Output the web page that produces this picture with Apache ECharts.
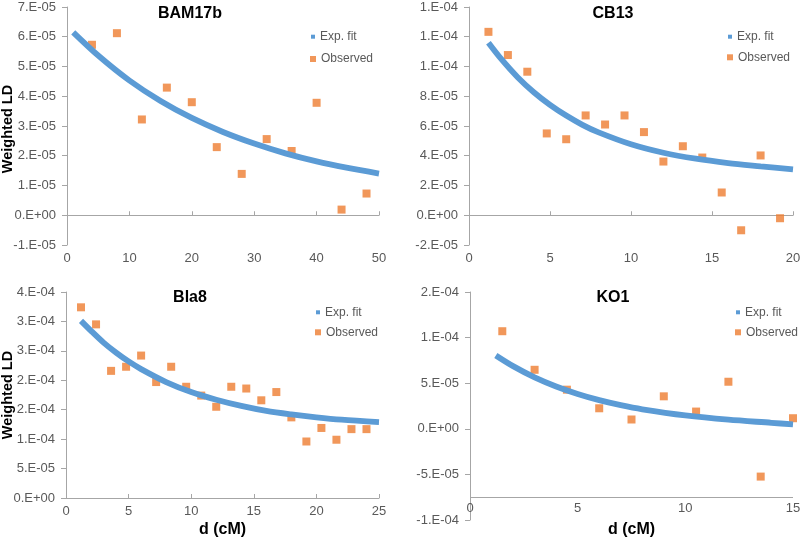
<!DOCTYPE html>
<html>
<head>
<meta charset="utf-8">
<script src="https://cdn.jsdelivr.net/npm/echarts@6/dist/echarts.min.js"></script>
<style>html,body{margin:0;padding:0;background:#fff}#c{width:800px;height:541px}</style>
</head>
<body>
<div id="c"></div>
<script>
// ---- Data ----
const titles = ['BAM17b', 'CB13', 'Bla8', 'KO1'];
const yTitle = 'Weighted LD';
const xTitle = 'd (cM)';

const bamObsX = [4, 8, 12, 16, 20, 24, 28, 32, 36, 40, 44, 48];
const bamObsY = [5.73e-5, 6.12e-5, 3.22e-5, 4.29e-5, 3.80e-5, 2.29e-5, 1.39e-5, 2.56e-5, 2.16e-5, 3.78e-5, 0.19e-5, 0.73e-5];
const bamFitX = [1, 5, 10, 15, 20, 25, 30, 35, 40, 45, 50];
const bamFitY = [6.15e-5, 5.37e-5, 4.53e-5, 3.84e-5, 3.27e-5, 2.80e-5, 2.41e-5, 2.08e-5, 1.81e-5, 1.59e-5, 1.40e-5];

const cbObsX = [1.2, 2.4, 3.6, 4.8, 6.0, 7.2, 8.4, 9.6, 10.8, 12.0, 13.2, 14.4, 15.6, 16.8, 18.0, 19.2];
const cbObsY = [12.33e-5, 10.77e-5, 9.65e-5, 5.50e-5, 5.11e-5, 6.71e-5, 6.10e-5, 6.71e-5, 5.59e-5, 3.61e-5, 4.64e-5, 3.88e-5, 1.53e-5, -1.01e-5, 4.02e-5, -0.20e-5];
const cbFitX = [1.2, 2, 3, 4, 5, 6, 7, 8, 10, 12, 14, 16, 18, 20];
const cbFitY = [11.6e-5, 10.49e-5, 9.28e-5, 8.27e-5, 7.42e-5, 6.70e-5, 6.08e-5, 5.57e-5, 4.77e-5, 4.20e-5, 3.80e-5, 3.51e-5, 3.29e-5, 3.08e-5];

const blaObsX = [1.2, 2.4, 3.6, 4.8, 6.0, 7.2, 8.4, 9.6, 10.8, 12.0, 13.2, 14.4, 15.6, 16.8, 18.0, 19.2, 20.4, 21.6, 22.8, 24.0];
const blaObsY = [3.24e-4, 2.95e-4, 2.16e-4, 2.23e-4, 2.42e-4, 1.97e-4, 2.23e-4, 1.89e-4, 1.74e-4, 1.55e-4, 1.89e-4, 1.86e-4, 1.66e-4, 1.80e-4, 1.37e-4, 0.96e-4, 1.19e-4, 0.99e-4, 1.17e-4, 1.17e-4];
const blaFitX = [1.2, 2, 3, 4, 5, 6, 8, 10, 12, 14, 16, 18, 20, 22, 25];
const blaFitY = [3.01e-4, 2.84e-4, 2.64e-4, 2.47e-4, 2.32e-4, 2.19e-4, 1.97e-4, 1.80e-4, 1.67e-4, 1.565e-4, 1.48e-4, 1.42e-4, 1.37e-4, 1.33e-4, 1.29e-4];

const koObsX = [1.5, 3, 4.5, 6, 7.5, 9, 10.5, 12, 13.5, 15];
const koObsY = [10.7e-5, 6.47e-5, 4.29e-5, 2.25e-5, 1.02e-5, 3.56e-5, 1.89e-5, 5.16e-5, -5.24e-5, 1.16e-5];
const koFitX = [1.2, 2, 3, 4, 5, 6, 7, 8, 10, 12, 14, 15];
const koFitY = [8.04e-5, 6.87e-5, 5.64e-5, 4.64e-5, 3.82e-5, 3.14e-5, 2.59e-5, 2.14e-5, 1.47e-5, 1.00e-5, 0.66e-5, 0.48e-5];
const koAxisCross = -7.5e-5;

// axis ranges (tick values)
const xRanges = [[0, 50, 10], [0, 20, 5], [0, 25, 5], [0, 15, 5]];
const yRanges = [[-1e-5, 7e-5, 1e-5], [-2e-5, 1.4e-4, 2e-5], [0, 3.5e-4, 5e-5], [-1e-4, 1.5e-4, 5e-5]];

// ---- Layout / style ----
const FONT = 'Arial, "Liberation Sans", sans-serif';
const LBL = '#595959';
const AX = '#A6A6A6';
const BLUE = '#5B9BD5';
const ORANGE = '#ED7D31';

const grids = [
  {left: 67, top: 7, width: 312, height: 238, outerBoundsMode: 'none', containLabel: false},
  {left: 469, top: 7, width: 324, height: 238, outerBoundsMode: 'none', containLabel: false},
  {left: 66, top: 292, width: 313, height: 206, outerBoundsMode: 'none', containLabel: false},
  {left: 470, top: 292, width: 323, height: 228, outerBoundsMode: 'none', containLabel: false}
];
const titlePos = [[190, 14], [613, 14], [190, 298], [613, 298]];
const yTitlePos = [[8, 129], null, [8, 395], null];
const legendPos = [[313, 37.7, 60], [730, 37.7, 58.3], [318, 313.3, 333.3], [738, 313.3, 333.3]];

function fmt(v) {
  if (Math.abs(v) < 1e-15) return '0.E+00';
  const s = v < 0 ? -1 : 1;
  const a = Math.abs(v);
  let e = Math.floor(Math.log10(a) + 1e-9);
  let m = Math.round(a / Math.pow(10, e) + 1e-9);
  if (m >= 10) { m = m / 10; e += 1; }
  const ae = Math.abs(e);
  return (s < 0 ? '-' : '') + m + '.E' + (e < 0 ? '-' : '+') + (ae < 10 ? '0' : '') + ae;
}
function zip(xs, ys) { return xs.map((x, i) => [x, ys[i]]); }

const obs = [[bamObsX, bamObsY], [cbObsX, cbObsY], [blaObsX, blaObsY], [koObsX, koObsY]];
const fits = [[bamFitX, bamFitY], [cbFitX, cbFitY], [blaFitX, blaFitY], [koFitX, koFitY]];

const xAxes = [], yAxes = [], series = [], legends = [], graphics = [];
for (let i = 0; i < 4; i++) {
  const bottomRow = i >= 2;
  const custom = i === 3;
  xAxes.push({
    type: 'value', gridIndex: i,
    min: xRanges[i][0], max: xRanges[i][1], interval: xRanges[i][2],
    splitLine: {show: false},
    axisLine: {show: !custom, onZero: !custom, lineStyle: {color: AX, width: 1}},
    axisTick: {show: !custom, inside: true, length: 4, lineStyle: {color: AX}},
    axisLabel: {color: LBL, fontSize: 13, fontFamily: FONT, margin: custom ? -18 : 7,
                showMinLabel: true, showMaxLabel: true, hideOverlap: false},
    name: bottomRow ? xTitle : '',
    nameLocation: 'middle', nameGap: custom ? 2 : 24, nameMoveOverlap: false,
    nameTextStyle: {fontSize: 16, fontWeight: 'bold', color: '#000', fontFamily: FONT}
  });
  yAxes.push({
    type: 'value', gridIndex: i,
    min: yRanges[i][0], max: yRanges[i][1], interval: yRanges[i][2],
    splitLine: {show: false},
    axisLine: {show: true, lineStyle: {color: AX, width: 1}},
    axisTick: {show: true, length: 5, lineStyle: {color: AX}},
    axisLabel: {color: LBL, fontSize: 13, fontFamily: FONT, margin: 11, formatter: fmt}
  });
  series.push({
    type: 'line', name: 'Exp. fit', xAxisIndex: i, yAxisIndex: i,
    data: zip(fits[i][0], fits[i][1]), smooth: 0.3, showSymbol: false,
    lineStyle: {color: BLUE, width: 5.8}, itemStyle: {color: BLUE},
    markLine: custom ? {
      silent: true, symbol: 'none', animation: false,
      lineStyle: {color: AX, width: 1, type: 'solid'}, label: {show: false},
      data: [[{coord: [xRanges[i][0], koAxisCross]}, {coord: [xRanges[i][1], koAxisCross]}]]
    } : undefined
  });
  series.push({
    type: 'scatter', name: 'Observed', xAxisIndex: i, yAxisIndex: i,
    data: zip(obs[i][0], obs[i][1]), symbol: 'rect', symbolSize: 8,
    itemStyle: {color: ORANGE}
  });
  const lp = legendPos[i];
  legends.push({
    data: [{name: 'Exp. fit', icon: 'rect'}], selectedMode: false,
    left: lp[0] - 2, top: lp[1] - 7, padding: 0, itemWidth: 4, itemHeight: 4,
    textStyle: {color: LBL, fontSize: 12, fontFamily: FONT}
  });
  legends.push({
    data: [{name: 'Observed', icon: 'rect'}], selectedMode: false,
    left: lp[0] - 3, top: lp[2] - 7, padding: 0, itemWidth: 6, itemHeight: 6,
    textStyle: {color: LBL, fontSize: 12, fontFamily: FONT}
  });
  graphics.push({
    type: 'text', x: titlePos[i][0], y: titlePos[i][1],
    style: {text: titles[i], fill: '#000', font: 'bold 16px ' + FONT, textAlign: 'center', textVerticalAlign: 'middle'}
  });
  if (yTitlePos[i]) {
    graphics.push({
      type: 'text', x: yTitlePos[i][0], y: yTitlePos[i][1], rotation: Math.PI / 2,
      style: {text: yTitle, fill: '#000', font: 'bold 14.5px ' + FONT, textAlign: 'center', textVerticalAlign: 'middle'}
    });
  }
}

const chart = echarts.init(document.getElementById('c'), null, {renderer: 'canvas'});
chart.setOption({
  animation: false,
  backgroundColor: '#fff',
  grid: grids,
  xAxis: xAxes,
  yAxis: yAxes,
  legend: legends,
  series: series,
  graphic: graphics
});
</script>
</body>
</html>
